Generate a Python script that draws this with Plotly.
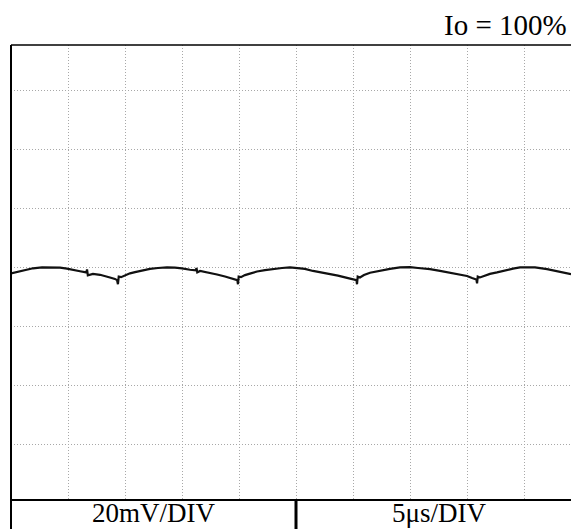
import plotly.graph_objects as go

# Time (microseconds) and ripple voltage (mV, relative to screen centre)
time_us = [0.0, 0.53, 1.05, 1.93, 2.72, 3.42, 4.30, 4.91, 5.44, 6.05, 6.60, 6.67, 6.74, 7.19, 7.81,
           8.33, 8.68, 9.12, 9.30, 9.38, 9.45, 9.65, 10.0, 10.44, 10.88, 11.49, 12.19, 12.89, 13.68,
           14.38, 15.0, 15.70, 16.20, 16.27, 16.34, 16.58, 17.28, 18.07, 18.77, 19.38, 19.85, 19.91,
           19.97, 20.17, 20.52, 20.96, 21.58, 22.28, 22.98, 23.77, 24.47, 25.08, 25.78, 26.49, 27.28,
           27.98, 28.68, 29.30, 29.82, 30.30, 30.35, 30.41, 30.61, 30.96, 31.49, 32.36, 33.24, 34.12,
           35.0, 35.70, 36.75, 37.63, 38.25, 38.95, 39.56, 40.0, 40.44, 40.82, 40.88, 40.94, 41.14,
           41.58, 42.01, 42.63, 43.33, 44.03, 44.65, 45.26, 45.96, 47.02, 47.98, 48.6, 49.12]
ripple_mv = [-1.9, -1.5, -1.0, -0.2, 0.1, 0.1, 0.0, -0.3, -0.8, -1.2, -1.6, -0.6, -2.6, -2.1, -2.4,
             -2.8, -3.3, -3.8, -4.2, -5.6, -3.0, -3.2, -2.5, -1.9, -1.5, -0.9, -0.4, -0.1, 0.1,
             0.0, -0.2, -0.7, -0.9, -0.1, -1.6, -1.1, -1.6, -2.3, -3.0, -3.7, -4.2, -5.6, -3.0,
             -3.2, -2.5, -2.0, -1.3, -0.8, -0.4, -0.1, 0.1, -0.1, -0.4, -1.1, -1.6,
             -2.2, -2.7, -3.3, -3.8, -4.2, -5.6, -3.0, -3.3, -2.5, -1.7, -1.0, -0.4, 0.1,
             0.2, -0.1, -0.5, -1.1, -1.6, -2.1, -2.5, -2.8, -3.5, -4.0, -5.3, -3.0, -3.3,
             -2.6, -2.1, -1.6, -0.9, -0.3, 0.1, 0.2, 0.1, -0.5, -1.3, -1.8, -2.2]

title_text = "Io = 100%"
volt_label = "20mV/DIV"
time_label = "5\u03bcs/DIV"

W, H = 571, 529
SERIF = "Liberation Serif, Times New Roman, serif"

fig = go.Figure()
fig.add_trace(go.Scatter(x=time_us, y=ripple_mv, mode="lines",
                         line=dict(color="#111111", width=2.2), hoverinfo="skip"))

def px(x):
    return x / W

def py(y):
    return 1 - y / H

grid = dict(showgrid=True, gridcolor="#a8a8a8", gridwidth=1, griddash="1px,2px",
            zeroline=False, showticklabels=False, ticks="", showline=False)

fig.update_layout(
    width=W, height=H,
    margin=dict(l=0, r=0, t=0, b=0),
    paper_bgcolor="white", plot_bgcolor="white",
    showlegend=False,
    xaxis=dict(domain=[px(11), 1.0], range=[0, 49.12], dtick=5, tick0=0, **grid),
    yaxis=dict(domain=[py(500), py(45)], range=[-78.75, 75.5], dtick=20, tick0=0, **grid),
)

fig.add_shape(type="line", xref="paper", yref="paper", x0=px(11), x1=1.0, y0=py(45), y1=py(45),
              line=dict(color="black", width=1.5))
fig.add_shape(type="line", xref="paper", yref="paper", x0=px(11), x1=px(11), y0=py(45), y1=0,
              line=dict(color="black", width=2))
fig.add_shape(type="line", xref="paper", yref="paper", x0=px(11), x1=1.0, y0=py(500), y1=py(500),
              line=dict(color="black", width=2))
fig.add_shape(type="line", xref="paper", yref="paper", x0=px(296), x1=px(296), y0=py(500), y1=0,
              line=dict(color="black", width=3))

fig.add_annotation(text=title_text, xref="paper", yref="paper", x=px(569), y=py(25),
                   xanchor="right", yanchor="middle", showarrow=False,
                   font=dict(family=SERIF, size=29, color="black"))
fig.add_annotation(text=volt_label, xref="paper", yref="paper", x=px(153.5), y=0,
                   xanchor="center", yanchor="bottom", showarrow=False, borderpad=0,
                   font=dict(family=SERIF, size=27, color="black"))
fig.add_annotation(text=time_label, xref="paper", yref="paper", x=px(438.5), y=0,
                   xanchor="center", yanchor="bottom", showarrow=False, borderpad=0,
                   font=dict(family=SERIF, size=27, color="black"))

fig.write_html("out.html")
